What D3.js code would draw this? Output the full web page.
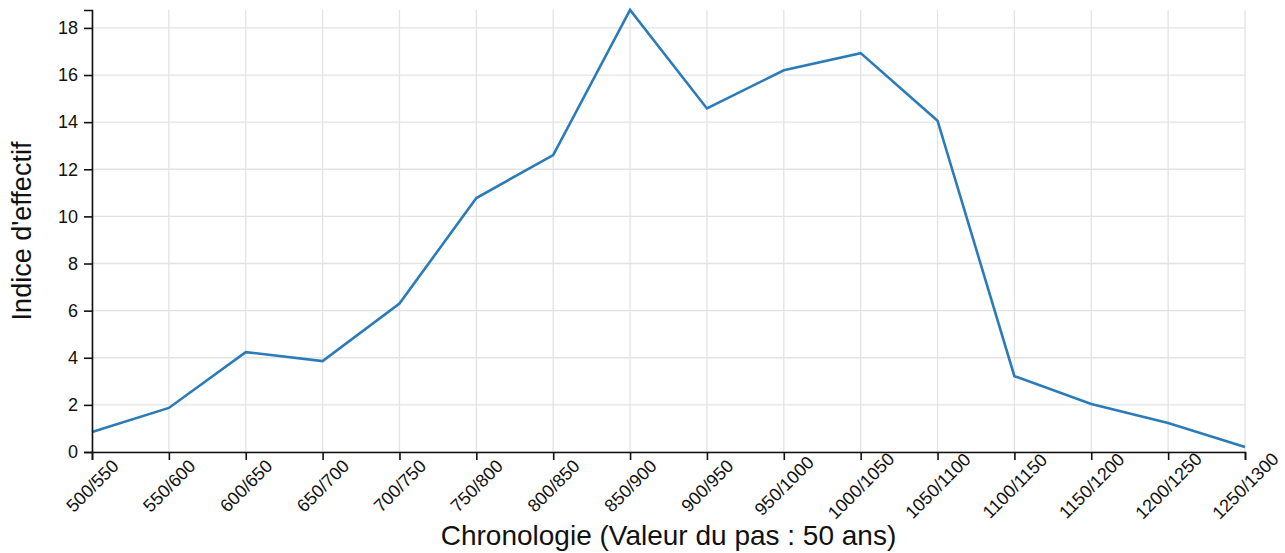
<!DOCTYPE html>
<html>
<head>
<meta charset="utf-8">
<script src="https://cdn.jsdelivr.net/npm/d3@7"></script>
<style>
  html, body { margin: 0; padding: 0; background: #fff; }
  svg { display: block; font-family: "Liberation Sans", Arial, sans-serif; }
</style>
</head>
<body>
<svg id="chart" width="1285" height="553"></svg>
<script>
const categories = ["500/550","550/600","600/650","650/700","700/750","750/800","800/850","850/900","900/950","950/1000","1000/1050","1050/1100","1100/1150","1150/1200","1200/1250","1250/1300"];
const values = [0.85, 1.87, 4.24, 3.86, 6.3, 10.78, 12.6, 18.76, 14.58, 16.2, 16.93, 14.06, 3.22, 2.04, 1.23, 0.21];
const yTicks = [0, 2, 4, 6, 8, 10, 12, 14, 16, 18];
const xTitle = "Chronologie (Valeur du pas : 50 ans)";
const yTitle = "Indice d'effectif";

const W = 1285, H = 553;
const margin = {top: 10, right: 40, bottom: 101, left: 92};
const svg = d3.select("#chart");
const g = svg.append("g").attr("transform", `translate(${margin.left},${margin.top})`);
const iw = W - margin.left - margin.right;
const ih = H - margin.top - margin.bottom;

const x = d3.scalePoint().domain(categories).range([0, iw]);
const y = d3.scaleLinear().domain([0, d3.max(values)]).range([ih, 0]);

// grid
g.append("g").selectAll("line.v").data(categories).join("line")
  .attr("x1", d => x(d)).attr("x2", d => x(d))
  .attr("y1", 0).attr("y2", ih)
  .attr("stroke", "#e3e3e3").attr("stroke-width", 1.3);
g.append("g").selectAll("line.h").data(yTicks).join("line")
  .attr("x1", 0).attr("x2", iw)
  .attr("y1", d => y(d)).attr("y2", d => y(d))
  .attr("stroke", "#e3e3e3").attr("stroke-width", 1.3);

// line
const line = d3.line().x((d, i) => x(categories[i])).y(d => y(d));
g.append("path").datum(values)
  .attr("fill", "none").attr("stroke", "#2b7bb9")
  .attr("stroke-width", 2.6).attr("stroke-linejoin", "miter")
  .attr("d", line);

// axes
const xAxis = g.append("g").attr("transform", `translate(0,${ih})`)
  .call(d3.axisBottom(x).tickSize(8).tickSizeOuter(8));
xAxis.selectAll("text").remove();
xAxis.selectAll(".tick").append("text")
  .style("fill", "#111")
  .style("font-size", "18px")
  .attr("text-anchor", "middle")
  .attr("dominant-baseline", "central")
  .attr("transform", "translate(0,34) rotate(-45)")
  .text(d => d);

const yAxis = g.append("g")
  .call(d3.axisLeft(y).tickValues(yTicks).tickSize(8).tickSizeOuter(8).tickPadding(6));
yAxis.selectAll("text").style("font-size", "18px").style("fill", "#111");

[xAxis, yAxis].forEach(a => {
  a.select(".domain").attr("stroke", "#111").attr("stroke-width", 1.6);
  a.selectAll(".tick line").attr("stroke", "#111").attr("stroke-width", 1.6);
});

// titles
svg.append("text")
  .attr("x", margin.left + iw / 2).attr("y", 545)
  .attr("text-anchor", "middle").style("font-size", "28px").style("fill", "#111")
  .text(xTitle);
svg.append("text")
  .attr("transform", `translate(31,${margin.top + ih / 2}) rotate(-90)`)
  .attr("text-anchor", "middle").style("font-size", "27px").style("fill", "#111")
  .text(yTitle);
</script>
</body>
</html>
